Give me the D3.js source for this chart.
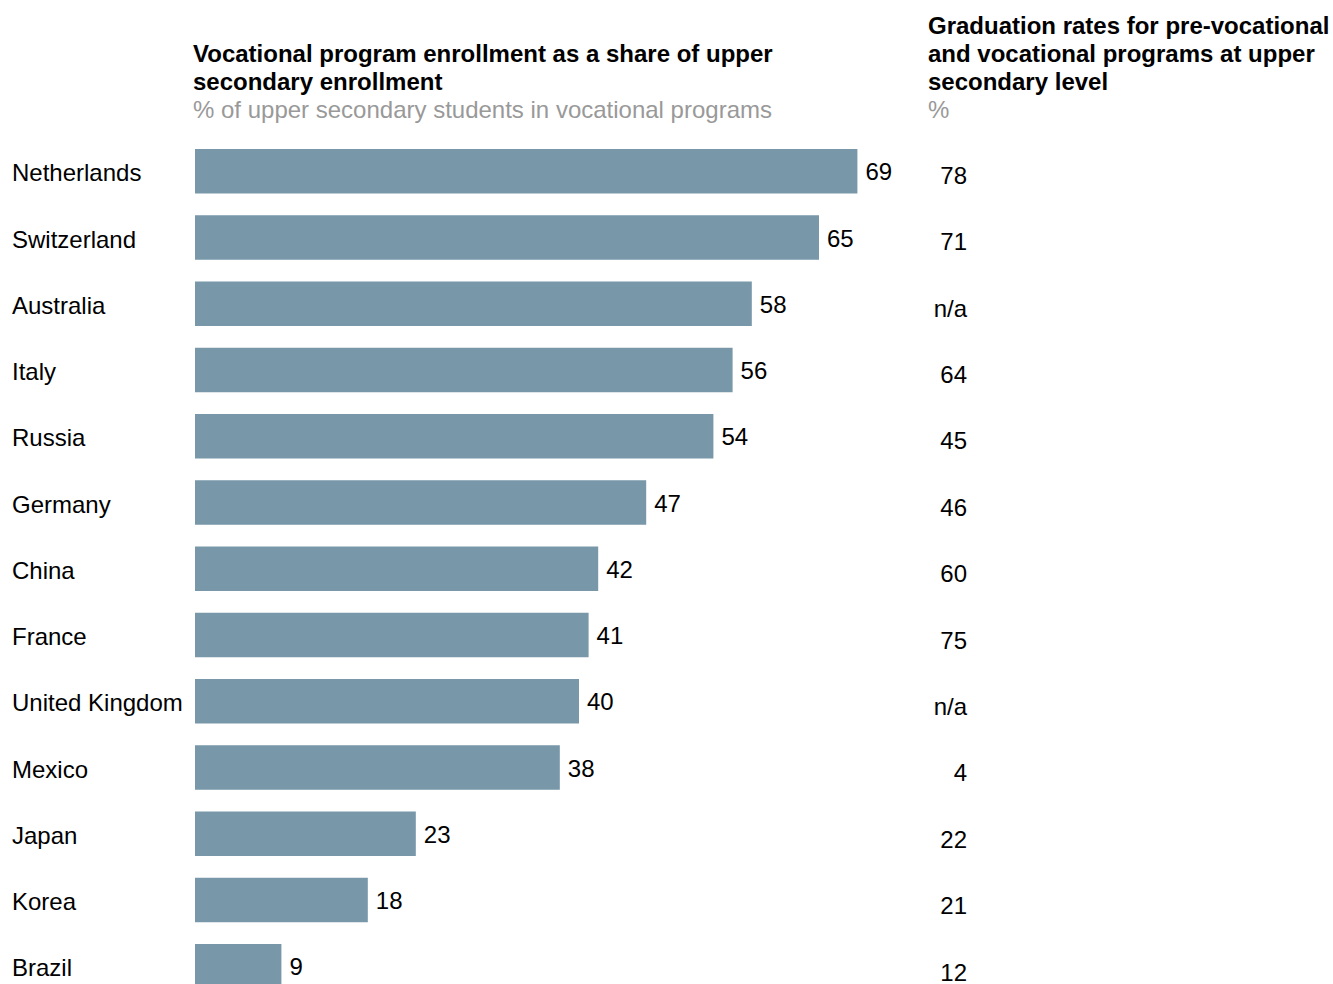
<!DOCTYPE html>
<html>
<head>
    <meta charset='utf-8' />
    <title>Vocational enrollment</title>
    <script src="https://d3js.org/d3.v7.min.js" charset="utf-8"></script>
    <style>
        body {
            margin: 0;
            font-family: "Liberation Sans", Arial, sans-serif;
            background: #fff;
        }
        .title {
            font-size: 24px;
            font-weight: bold;
            fill: #000;
        }
        .subtitle {
            font-size: 24px;
            fill: #999;
        }
        .label, .value, .grad {
            font-size: 24px;
            fill: #000;
        }
        .bar {
            fill: #7897a9;
        }
    </style>
</head>
<body>
    <div id="graphic"></div>
    <script>
        var countries = ["Netherlands", "Switzerland", "Australia", "Italy", "Russia", "Germany",
            "China", "France", "United Kingdom", "Mexico", "Japan", "Korea", "Brazil"];
        var enrollment = [69, 65, 58, 56, 54, 47, 42, 41, 40, 38, 23, 18, 9];
        // null = n/a
        var graduation = [78, 71, null, 64, 45, 46, 60, 75, null, 4, 22, 21, 12];

        var leftTitle = ["Vocational program enrollment as a share of upper", "secondary enrollment"];
        var leftSub = "% of upper secondary students in vocational programs";
        var rightTitle = ["Graduation rates for pre-vocational", "and vocational programs at upper", "secondary level"];
        var rightSub = "%";

        var data = countries.map(function (c, i) {
            return { name: c, value: enrollment[i], grad: graduation[i] };
        });

        var width = 1333, height = 984;

        var svg = d3.select("#graphic").append("svg")
            .attr("width", width)
            .attr("height", height);

        // bars: left edge at 195, ~9.6px per point
        var x = d3.scaleLinear()
            .domain([0, 69])
            .range([195, 195 + 69 * 9.6]);

        var step = 66.25, barH = 44.5;
        var y = d3.scaleBand()
            .domain(countries)
            .range([149, 149 + step * 12 + barH])
            .paddingInner((step - barH) / step)
            .paddingOuter(0);

        // titles
        var lt = svg.append("g");
        lt.selectAll("text.title")
            .data(leftTitle)
            .enter().append("text")
            .attr("class", "title")
            .attr("x", 193)
            .attr("y", function (d, i) { return 62 + i * 28; })
            .text(function (d) { return d; });
        lt.append("text")
            .attr("class", "subtitle")
            .attr("x", 193)
            .attr("y", 118)
            .text(leftSub);

        var rt = svg.append("g");
        rt.selectAll("text.title")
            .data(rightTitle)
            .enter().append("text")
            .attr("class", "title")
            .attr("x", 928)
            .attr("y", function (d, i) { return 34 + i * 28; })
            .text(function (d) { return d; });
        rt.append("text")
            .attr("class", "subtitle")
            .attr("x", 928)
            .attr("y", 118)
            .text(rightSub);

        var rows = svg.selectAll(".row")
            .data(data)
            .enter()
            .append("g")
            .attr("class", "row");

        rows.append("rect")
            .attr("class", "bar")
            .attr("x", x(0))
            .attr("y", function (d) { return y(d.name); })
            .attr("width", function (d) { return x(d.value) - x(0); })
            .attr("height", y.bandwidth());

        // country names
        rows.append("text")
            .attr("class", "label")
            .attr("x", 12)
            .attr("y", function (d) { return y(d.name) + y.bandwidth() / 2 + 10; })
            .text(function (d) { return d.name; });

        // value at end of bar
        rows.append("text")
            .attr("class", "value")
            .attr("x", function (d) { return x(d.value) + 8; })
            .attr("y", function (d) { return y(d.name) + y.bandwidth() / 2 + 9; })
            .text(function (d) { return d.value; });

        // graduation column, right aligned
        rows.append("text")
            .attr("class", "grad")
            .attr("x", 967)
            .attr("text-anchor", "end")
            .attr("y", function (d, i) { return y(d.name) + y.bandwidth() / 2 + 12.5 + i * 0.15; })
            .text(function (d) { return d.grad == null ? "n/a" : d.grad; });
    </script>
</body>
</html>
